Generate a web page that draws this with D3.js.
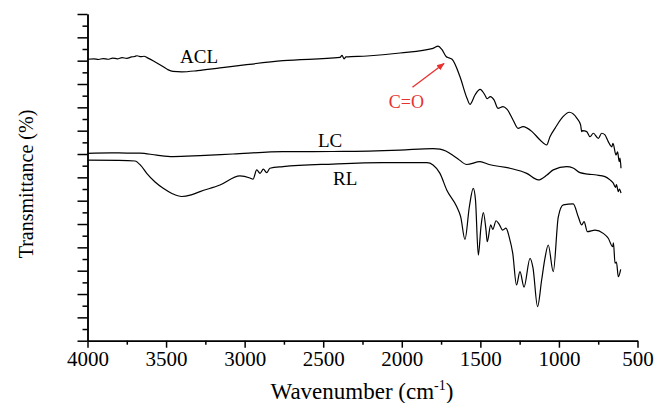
<!DOCTYPE html>
<html>
<head>
<meta charset="utf-8">
<script src="https://d3js.org/d3.v7.min.js"></script>
<style>
  body { margin: 0; background: #fff; }
  svg text { font-family: 'Liberation Serif', 'Times New Roman', Times, serif !important; }
</style>
</head>
<body>
<div id="chart"></div>
<script>
// spectra: [wavenumber, transmittance (a.u.)]
const aclData = [
    [4000, 120.6], [3960, 120.8], [3930, 120.5], [3900, 120.9], [3870, 120.6], [3840, 121.1],
    [3810, 120.8], [3780, 121.3], [3750, 121.0], [3720, 121.6], [3700, 121.8], [3685, 122.1],
    [3660, 121.7], [3640, 121.9], [3621, 121.3], [3580, 119.9], [3539, 118.3], [3490, 116.2],
    [3456, 115.4], [3400, 115.2], [3300, 115.7], [3157, 116.9], [3000, 118.2], [2756, 120.0],
    [2393, 121.4], [2380, 122.3], [2368, 120.8], [2355, 121.6], [2221, 122.0], [2011, 123.3],
    [1801, 125.3], [1769, 126.2], [1745, 124.8], [1718, 121.8], [1700, 121.2], [1680, 120.6],
    [1630, 113.2], [1585, 103.9], [1566, 101.3], [1534, 105.3], [1502, 107.7], [1471, 105.3],
    [1458, 103.7], [1436, 104.6], [1413, 103.2], [1388, 99.6], [1356, 100.3], [1331, 99.2],
    [1292, 94.6], [1260, 91.0], [1229, 91.7], [1171, 89.6], [1120, 86.0], [1078, 83.9],
    [1057, 87.4], [1025, 91.0], [974, 96.0], [934, 97.9], [885, 95.3], [862, 92.5],
    [855, 89.6], [849, 90.0], [823, 89.6], [802, 87.4], [781, 88.9], [749, 86.7],
    [728, 88.9], [707, 88.2], [686, 85.3], [664, 83.1], [656, 84.6], [637, 79.6],
    [627, 80.9], [616, 76.7], [611, 78.3], [605, 73.9]
];

const lcData = [
    [4000, 80.3], [3850, 80.5], [3750, 80.4], [3666, 80.4], [3560, 79.5], [3456, 78.9],
    [3284, 79.3], [3074, 80.0], [2756, 81.0], [2374, 81.1], [2011, 81.7], [1801, 82.3],
    [1757, 82.1], [1720, 81.3], [1693, 80.2], [1642, 77.9], [1587, 75.5], [1502, 76.7],
    [1445, 75.5], [1311, 73.9], [1205, 71.7], [1131, 68.9], [1076, 71.0], [1036, 73.2],
    [951, 74.6], [910, 74.0], [866, 72.0], [815, 71.4], [760, 71.0], [707, 70.3],
    [675, 68.9], [654, 67.5], [640, 65.7], [634, 66.9], [622, 63.9], [615, 65.0], [605, 63.2]
];

const rlData = [
    [4000, 77.4], [3800, 77.3], [3698, 77.0], [3660, 75.0], [3623, 71.7], [3570, 68.0],
    [3518, 65.3], [3460, 63.0], [3401, 61.8], [3340, 62.5], [3284, 63.9], [3157, 66.7],
    [3030, 70.6], [2966, 69.7], [2947, 69.2], [2923, 73.2], [2902, 71.7], [2881, 73.5],
    [2860, 72.0], [2839, 73.9], [2756, 74.6], [2438, 75.7], [2120, 76.3], [1840, 76.3],
    [1801, 75.3], [1757, 71.7], [1714, 64.6], [1650, 57.4], [1625, 53.1], [1598, 43.4],
    [1570, 57.4], [1545, 65.3], [1531, 60.3], [1513, 36.7], [1496, 48.9], [1481, 54.9],
    [1464, 47.4], [1456, 42.4], [1434, 49.6], [1421, 47.7], [1400, 51.4], [1381, 50.0],
    [1358, 47.4], [1337, 48.2], [1316, 44.3], [1294, 37.5], [1270, 23.9], [1248, 29.6],
    [1222, 23.0], [1184, 35.3], [1165, 31.2], [1136, 14.6], [1110, 26.0], [1089, 35.3],
    [1068, 41.0], [1036, 29.6], [1004, 53.1], [972, 58.2], [909, 58.6], [877, 53.1],
    [855, 49.6], [840, 51.0], [819, 46.7], [770, 47.4], [718, 46.0], [686, 43.9],
    [658, 40.3], [653, 41.9], [643, 33.2], [634, 33.7], [622, 27.4], [607, 30.6]
];

const xMajorTicks = [4000, 3500, 3000, 2500, 2000, 1500, 1000, 500];
const xMinorTicks = d3.range(3750, 500, -500);
const yMajorTicks = d3.range(0, 141, 10);
const yMinorTicks = d3.range(5, 140, 10);

// curve names and where they sit: [name, wavenumber, value]
const curveLabels = [['ACL', 3411, 119.0], ['LC', 2533, 83.1], ['RL', 2438, 66.7]];
// C=O arrow: from, to (data coords) and text anchor
const arrowFrom = [1932, 108.6];
const arrowTo = [1731, 118.8];
const arrowText = [1971, 99.7];

const svgWidth = 657;
const svgHeight = 403;
const serif = "'Liberation Serif', 'Times New Roman', Times, serif";

const svg = d3.select('#chart')
    .append('svg')
    .attr('width', svgWidth)
    .attr('height', svgHeight)
    .attr('font-family', serif);

// Step 1: scales
const xScale = d3.scaleLinear()
    .domain([4000, 500])
    .range([87.5, 637.5]);

const yScale = d3.scaleLinear()
    .domain([0, 140])
    .range([340.7, 14]);

// Step 2: axes
const xAxisG = svg.append('g')
    .attr('transform', `translate(0, ${yScale(0)})`);

xAxisG.append('g')
    .call(d3.axisBottom(xScale).tickValues(xMinorTicks).tickSize(4).tickSizeOuter(0).tickFormat(''));

xAxisG.append('g')
    .attr('class', 'major')
    .call(d3.axisBottom(xScale).tickValues(xMajorTicks).tickSize(7).tickSizeOuter(0).tickFormat(d3.format('d')));

xAxisG.selectAll('g').attr('font-family', serif);

xAxisG.selectAll('.major text')
    .attr('dy', null)
    .attr('y', 25)
    .attr('font-size', 21)
    .attr('fill', '#000');

const yAxisG = svg.append('g')
    .attr('transform', `translate(${xScale(4000)}, 0)`);

yAxisG.append('g')
    .call(d3.axisLeft(yScale).tickValues(yMinorTicks).tickSize(5).tickSizeOuter(0).tickFormat(''));

yAxisG.append('g')
    .call(d3.axisLeft(yScale).tickValues(yMajorTicks).tickSize(10).tickSizeOuter(0).tickFormat(''));

svg.selectAll('.domain, .tick line')
    .attr('stroke', '#000')
    .attr('stroke-width', 1.5);

// Step 3: spectra
const line = d3.line()
    .curve(d3.curveMonotoneX)
    .x(d => xScale(d[0]))
    .y(d => yScale(d[1]));

[aclData, lcData, rlData].forEach(data => {
    svg.append('path')
        .datum(data)
        .attr('d', line)
        .attr('fill', 'none')
        .attr('stroke', '#000')
        .attr('stroke-width', 1.2)
        .attr('stroke-linejoin', 'round');
});

// Step 4: labels
svg.selectAll('.curveLabel')
    .data(curveLabels)
    .enter()
    .append('text')
    .attr('class', 'curveLabel')
    .attr('x', d => xScale(d[1]))
    .attr('y', d => yScale(d[2]))
    .attr('font-size', 19)
    .text(d => d[0]);

svg.append('defs').append('marker')
    .attr('id', 'head')
    .attr('viewBox', '0 0 10 10')
    .attr('refX', 9)
    .attr('refY', 5)
    .attr('markerWidth', 8)
    .attr('markerHeight', 8)
    .attr('markerUnits', 'userSpaceOnUse')
    .attr('orient', 'auto')
    .append('path')
    .attr('d', 'M0,1 L10,5 L0,9 Z')
    .attr('fill', '#e8312f');

svg.append('line')
    .attr('x1', xScale(arrowFrom[0]))
    .attr('y1', yScale(arrowFrom[1]))
    .attr('x2', xScale(arrowTo[0]))
    .attr('y2', yScale(arrowTo[1]))
    .attr('stroke', '#e8312f')
    .attr('stroke-width', 1.3)
    .attr('marker-end', 'url(#head)');

svg.append('text')
    .attr('x', xScale(arrowText[0]))
    .attr('y', yScale(arrowText[1]))
    .attr('text-anchor', 'middle')
    .attr('font-size', 18)
    .attr('fill', '#e8312f')
    .text('C=O');

// axis titles
const xTitle = svg.append('text')
    .attr('x', 362)
    .attr('y', 399)
    .attr('text-anchor', 'middle')
    .attr('font-size', 23);
xTitle.append('tspan').text('Wavenumber (cm');
xTitle.append('tspan').attr('dy', -9).attr('font-size', 14).text('-1');
xTitle.append('tspan').attr('dy', 9).text(')');

svg.append('text')
    .attr('transform', 'translate(33, 184) rotate(-90)')
    .attr('text-anchor', 'middle')
    .attr('font-size', 20)
    .text('Transmittance (%)');
</script>
</body>
</html>
